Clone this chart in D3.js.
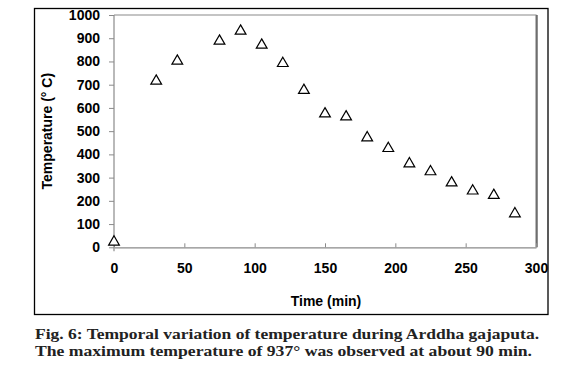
<!DOCTYPE html>
<html>
<head>
<meta charset="utf-8">
<script src="https://cdn.jsdelivr.net/npm/d3@7"></script>
<style>
  body { margin: 0; background: #fff; }
  svg { display: block; }
</style>
</head>
<body>
<div class="container"></div>
<script>
// data
const times = [0, 30, 45, 75, 90, 105, 120, 135, 150, 165, 180, 195, 210, 225, 240, 255, 270, 285];
const temps = [27, 720, 806, 892, 935, 875, 796, 680, 579, 566, 476, 430, 364, 330, 282, 247, 228, 149];
const xTicks = [0, 50, 100, 150, 200, 250, 300];
const yTicks = [0, 100, 200, 300, 400, 500, 600, 700, 800, 900, 1000];
const captionLines = [
  "Fig. 6: Temporal variation of temperature during Arddha gajaputa.",
  "The maximum temperature of 937° was observed at about 90 min."
];

const W = 567, H = 375;
const plot = { left: 114, right: 536, top: 15, bottom: 247.3 };
const sans = "Liberation Sans, Arial, sans-serif";

const svg = d3.select(".container").append("svg")
  .attr("width", W).attr("height", H);

// outer frame round the chart
svg.append("rect")
  .attr("x", 34.5).attr("y", 8.5)
  .attr("width", 513.5).attr("height", 306)
  .attr("fill", "none").attr("stroke", "#000").attr("stroke-width", 1.3);

const x = d3.scaleLinear().domain([0, 300]).range([plot.left, plot.right]);
const y = d3.scaleLinear().domain([0, 1000]).range([plot.bottom, plot.top]);

// plot area frame (top + right)
svg.append("path")
  .attr("d", `M${plot.left},${plot.top}H${plot.right}V${plot.bottom}`)
  .attr("fill", "none").attr("stroke", "#8a8a8a").attr("stroke-width", 1.2);
svg.append("line")
  .attr("x1", plot.right + 1).attr("x2", plot.right + 1)
  .attr("y1", plot.top).attr("y2", plot.bottom)
  .attr("stroke", "#222").attr("stroke-width", 1);

// y axis
const yAxis = svg.append("g")
  .attr("transform", `translate(${plot.left},0)`)
  .call(d3.axisLeft(y).tickValues(yTicks).tickFormat(d3.format("d"))
    .tickSize(5).tickPadding(9).tickSizeOuter(0));
yAxis.select(".domain").attr("stroke", "#8a8a8a").attr("stroke-width", 1.2)
  .attr("d", `M0,${plot.top}V${plot.bottom + 4}`);
yAxis.selectAll(".tick line").attr("stroke", "#8a8a8a");
yAxis.selectAll(".tick text")
  .attr("font-family", sans)
  .attr("font-weight", "bold").attr("font-size", 14).attr("fill", "#000");

// x axis, ticks pointing up into the plot
const xAxis = svg.append("g")
  .attr("transform", `translate(0,${plot.bottom})`)
  .call(d3.axisBottom(x).tickValues(xTicks).tickSize(-4).tickPadding(16).tickSizeOuter(0));
xAxis.select(".domain").attr("stroke", "#8a8a8a").attr("stroke-width", 1.2);
xAxis.selectAll(".tick line").attr("stroke", "#8a8a8a");
xAxis.selectAll(".tick text")
  .attr("font-family", sans)
  .attr("font-weight", "bold").attr("font-size", 14).attr("fill", "#000");

// axis titles
svg.append("text")
  .attr("transform", `translate(52,${(plot.top + plot.bottom) / 2}) rotate(-90)`)
  .attr("text-anchor", "middle")
  .attr("font-family", sans)
  .attr("font-weight", "bold").attr("font-size", 14)
  .text("Temperature (° C)");

svg.append("text")
  .attr("x", 326).attr("y", 306)
  .attr("text-anchor", "middle")
  .attr("font-family", sans)
  .attr("font-weight", "bold").attr("font-size", 14)
  .text("Time (min)");

// triangle markers
const tri = d3.symbol().type(d3.symbolTriangle).size(50);
svg.append("g").selectAll("path")
  .data(times.map((t, i) => ({ t, v: temps[i] })))
  .join("path")
  .attr("transform", d => `translate(${x(d.t)},${y(d.v) + 1})`)
  .attr("d", tri)
  .attr("fill", "#fff").attr("stroke", "#000").attr("stroke-width", 1.2);

// caption
svg.append("g").selectAll("text")
  .data(captionLines)
  .join("text")
  .attr("x", 35).attr("y", (d, i) => 339 + i * 17)
  .attr("font-family", "Liberation Serif, Times New Roman, serif")
  .attr("font-weight", "bold").attr("font-size", 15.5).attr("fill", "#222")
  .attr("textLength", (d, i) => i === 0 ? 504 : 497)
  .attr("lengthAdjust", "spacingAndGlyphs")
  .text(d => d);
</script>
</body>
</html>
